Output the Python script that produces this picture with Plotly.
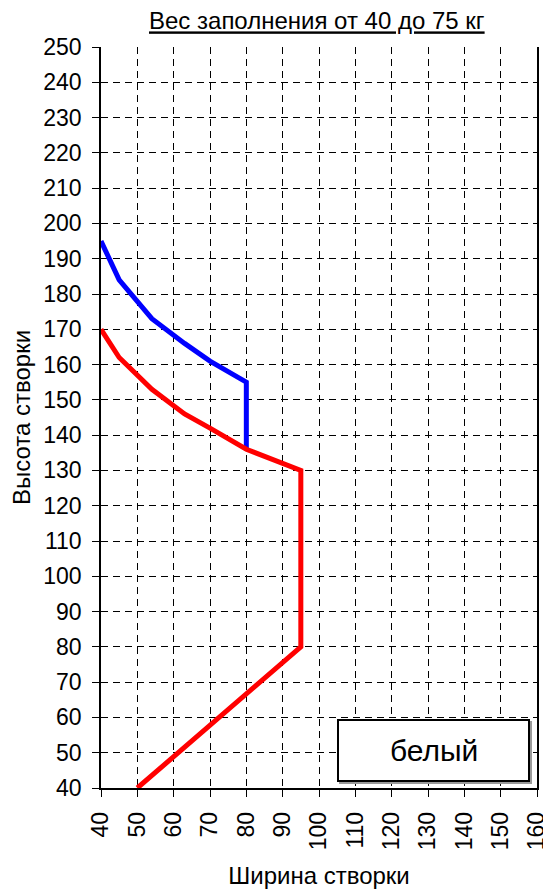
import plotly.graph_objects as go

# Data
blue_x = [40, 45, 54, 63, 70, 80, 80]
blue_y = [195, 184, 173, 166, 161, 155, 136]
red_x = [40, 45, 54, 63, 70, 80, 95, 95, 50]
red_y = [170, 162, 153, 146, 142, 136, 130, 80, 40]

x_ticks = list(range(40, 161, 10))
y_ticks = list(range(40, 251, 10))

title_text = "Вес заполнения от 40 до 75 кг"
x_title = "Ширина створки"
y_title = "Высота створки"
legend_text = "белый"

FONT = "Liberation Sans, Arial, sans-serif"

fig = go.Figure()
fig.add_trace(go.Scatter(x=blue_x, y=blue_y, mode="lines",
                         line=dict(color="#0000ff", width=5), showlegend=False,
                         hoverinfo="skip"))
fig.add_trace(go.Scatter(x=red_x, y=red_y, mode="lines",
                         line=dict(color="#ff0000", width=5), showlegend=False,
                         hoverinfo="skip"))

OFF = 8  # default page body margin
W, H = 551 - OFF, 892 - OFF
L, R, T, B = 101 - OFF, 14, 47 - OFF, 104

fig.update_layout(
    width=W, height=H,
    margin=dict(l=L, r=R, t=T, b=B),
    paper_bgcolor="white", plot_bgcolor="white",
    font=dict(family=FONT, color="black"),
    title=dict(text="<u>" + title_text + "</u>", x=0.495, xref="paper", xanchor="center",
               y=1 - (21 - OFF) / H, yref="container", yanchor="middle",
               font=dict(size=24, family=FONT, color="black")),
    showlegend=False,
)

fig.update_xaxes(
    range=[40, 160], tickvals=x_ticks, ticktext=[str(v) for v in x_ticks],
    tickangle=-90, tickfont=dict(size=23, family=FONT, color="black"),
    ticks="outside", ticklen=7, tickcolor="black", tickwidth=1,
    ticklabelstandoff=6,
    showline=True, linecolor="black", linewidth=1.5, mirror=False,
    showgrid=True, gridcolor="black", gridwidth=1, griddash="7px,5px",
    zeroline=False,
    title=dict(text=x_title, font=dict(size=24, family=FONT, color="black"), standoff=18),
    automargin=False,
)
fig.update_yaxes(
    range=[40, 250], tickvals=y_ticks, ticktext=[str(v) for v in y_ticks],
    tickfont=dict(size=23, family=FONT, color="black"),
    ticks="outside", ticklen=7, tickcolor="black", tickwidth=1,
    ticklabelstandoff=6,
    showline=True, linecolor="black", linewidth=1.5, mirror=True,
    showgrid=True, gridcolor="black", gridwidth=1, griddash="7px,5px",
    zeroline=False,
    title=dict(text=y_title, font=dict(size=24, family=FONT, color="black"), standoff=8),
    automargin=False,
)

# Legend-like box (page pixel positions converted to paper fractions)
pw = W - L - R
ph = H - T - B
box_x0, box_x1 = 338 - OFF, 529 - OFF
box_y0, box_y1 = 720 - OFF, 781 - OFF
fig.add_shape(type="rect", xref="paper", yref="paper",
              x0=(box_x0 + 2 - L) / pw, x1=(box_x1 + 2 - L) / pw,
              y0=(H - B - (box_y1 + 2)) / ph, y1=(H - B - (box_y0 + 2)) / ph,
              line=dict(color="#9a9a9a", width=2), fillcolor="#9a9a9a", layer="above")
fig.add_shape(type="rect", xref="paper", yref="paper",
              x0=(box_x0 - L) / pw, x1=(box_x1 - L) / pw,
              y0=(H - B - box_y1) / ph, y1=(H - B - box_y0) / ph,
              line=dict(color="black", width=2), fillcolor="white", layer="above")
fig.add_annotation(text=legend_text, xref="paper", yref="paper",
                   x=((box_x0 + box_x1) / 2 - L) / pw, y=(H - B - (box_y0 + box_y1) / 2) / ph,
                   xanchor="center", yanchor="middle", showarrow=False,
                   font=dict(size=30, family=FONT, color="black"))

fig.write_html("out.html")
